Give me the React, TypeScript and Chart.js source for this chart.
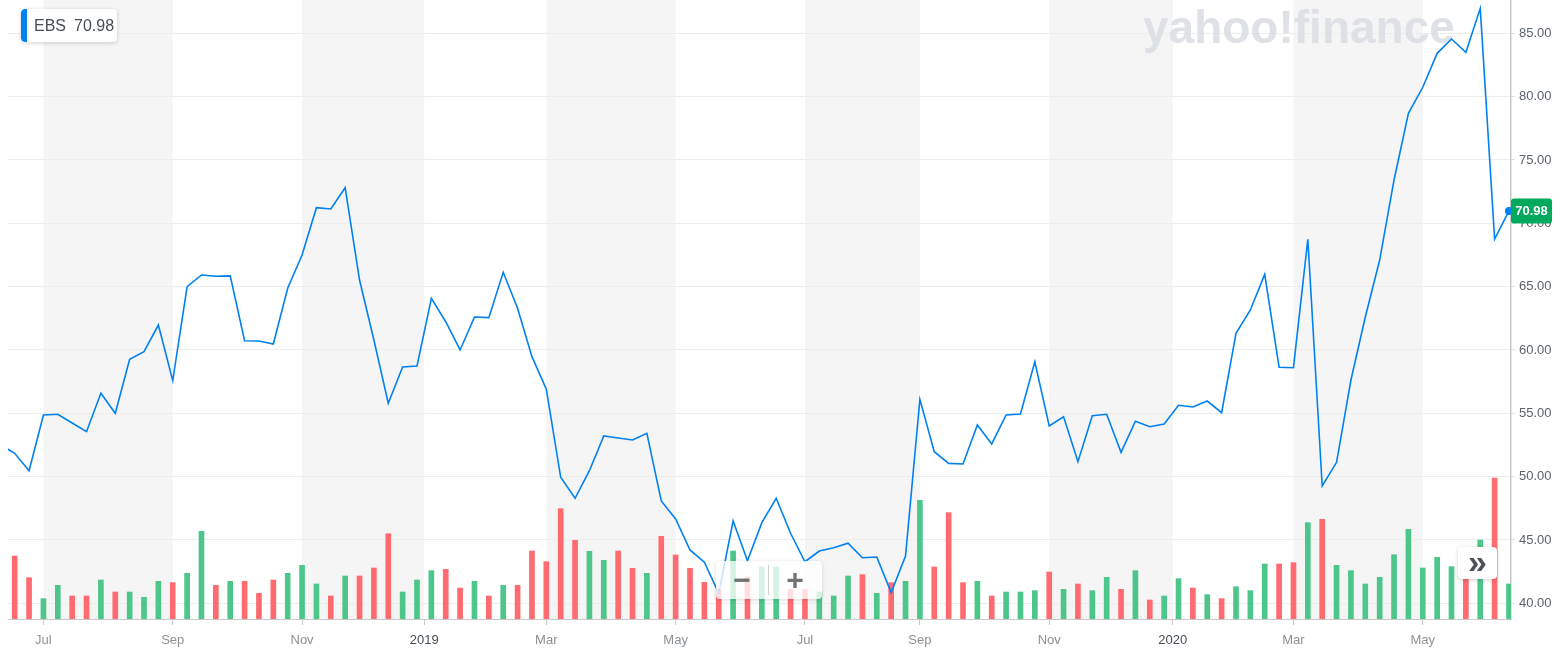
import React, { useEffect, useRef } from "react";
import { Chart, registerables } from "chart.js";

Chart.register(...registerables);

// Weekly closes (first value is the partly hidden week before the visible range)
const prices = [
  52.54,
  51.84, 50.47, 54.87, 54.92, 54.23, 53.55, 56.58, 55.0, 59.26, 59.87,
  61.97, 57.58, 65.0, 65.92, 65.82, 65.85, 60.73, 60.71, 60.47, 64.87,
  67.5, 71.23, 71.13, 72.81, 65.52, 60.79, 55.79, 58.66, 58.74, 64.08,
  62.23, 60.0, 62.6, 62.55, 66.13, 63.29, 59.47, 56.9, 49.95, 48.29,
  50.47, 53.21, 53.05, 52.89, 53.42, 48.08, 46.66, 44.21, 43.24, 40.79,
  46.5, 43.36, 46.37, 48.29, 45.53, 43.28, 44.13, 44.39, 44.74, 43.6,
  43.65, 40.84, 43.73, 56.1, 51.97, 51.05, 51.0, 54.08, 52.58, 54.87,
  54.95, 59.07, 54.0, 54.73, 51.18, 54.81, 54.92, 51.92, 54.37, 53.94,
  54.15, 55.63, 55.5, 55.97, 55.05, 61.32, 63.16, 65.97, 58.63, 58.6,
  68.74, 49.26, 51.13, 57.63, 62.6, 67.1, 73.42, 78.68, 80.74, 83.42,
  84.55, 83.5, 86.97, 68.76, 70.98,
];

// Weekly volume (millions of shares)
const volumes = [
  1.2,
  1.89, 1.24, 0.61, 1.01, 0.69, 0.69, 1.17, 0.81, 0.81, 0.65,
  1.13, 1.09, 1.37, 2.63, 1.01, 1.13, 1.13, 0.77, 1.17, 1.37,
  1.61, 1.05, 0.69, 1.29, 1.29, 1.53, 2.56, 0.81, 1.17, 1.45,
  1.49, 0.93, 1.13, 0.69, 1.01, 1.01, 2.04, 1.72, 3.31, 2.36,
  2.03, 1.76, 2.04, 1.52, 1.37, 2.48, 1.92, 1.52, 1.1, 0.89,
  2.04, 1.26, 1.56, 1.56, 0.89, 0.89, 0.81, 0.69, 1.29, 1.33,
  0.77, 1.09, 1.13, 3.56, 1.56, 3.19, 1.09, 1.13, 0.69, 0.81,
  0.81, 0.85, 1.41, 0.89, 1.05, 0.85, 1.25, 0.89, 1.45, 0.57,
  0.69, 1.21, 0.93, 0.73, 0.61, 0.97, 0.85, 1.65, 1.65, 1.69,
  2.89, 2.99, 1.61, 1.45, 1.05, 1.25, 1.93, 2.69, 1.53, 1.85,
  1.57, 1.65, 2.37, 4.23, 1.05,
];

const firstWeek = -1; // week index of the first value
const tickWeeks = [2, 11, 20, 28.5, 37, 46, 55, 63, 72, 80.6, 89, 98];
const tickLabels = ["Jul", "Sep", "Nov", "2019", "Mar", "May", "Jul", "Sep", "Nov", "2020", "Mar", "May"];
const priceTicks = [40, 45, 50, 55, 60, 65, 70, 75, 80, 85];
const symbol = "EBS";

const FONT = "'Liberation Sans', Arial, Helvetica, sans-serif";
const GREEN = "#4cc68a";
const RED = "#ff6b71";
const BLUE = "#0081f2";

export default function App() {
  const canvasRef = useRef<HTMLCanvasElement | null>(null);
  const last = prices[prices.length - 1];

  useEffect(() => {
    const canvas = canvasRef.current;
    if (!canvas) return;

    const priceData = prices.map((y, i) => ({ x: i + firstWeek, y }));
    const volData = volumes.map((y, i) => ({ x: i + firstWeek, y }));
    const volColors = prices.map((p, i) => (i > 0 && p >= prices[i - 1] ? GREEN : RED));
    const lastIdx = prices.length - 1;

    const bandsPlugin = {
      id: "bands",
      beforeDraw(chart: any) {
        const { ctx, chartArea } = chart;
        const xs = chart.scales.x;
        ctx.save();
        ctx.fillStyle = "#f5f5f5";
        for (let i = 0; i + 1 < tickWeeks.length; i += 2) {
          const a = Math.max(xs.getPixelForValue(tickWeeks[i]), chartArea.left);
          const b = Math.min(xs.getPixelForValue(tickWeeks[i + 1]), chartArea.right);
          ctx.fillRect(a, chartArea.top, b - a, chartArea.bottom - chartArea.top);
        }
        ctx.restore();
      },
    };

    const watermarkPlugin = {
      id: "watermark",
      beforeDatasetsDraw(chart: any) {
        const { ctx } = chart;
        ctx.save();
        ctx.fillStyle = "rgba(216,220,226,0.85)";
        ctx.font = `bold 46px ${FONT}`;
        ctx.textBaseline = "alphabetic";
        ctx.textAlign = "left";
        ctx.fillText("yahoo!finance", 1143, 43);
        ctx.restore();
      },
    };

    const lastLabelPlugin = {
      id: "lastLabel",
      afterDraw(chart: any) {
        const { ctx, chartArea } = chart;
        const y = chart.scales.y.getPixelForValue(last);
        const x = chartArea.right;
        const w = 41;
        const h = 25;
        ctx.save();
        ctx.fillStyle = "#00a95c";
        ctx.beginPath();
        (ctx as any).roundRect(x, y - h / 2, w, h, 3);
        ctx.fill();
        ctx.fillStyle = "#ffffff";
        ctx.font = `bold 13px ${FONT}`;
        ctx.textAlign = "center";
        ctx.textBaseline = "middle";
        ctx.fillText(last.toFixed(2), x + w / 2, y + 0.5);
        ctx.restore();
      },
    };

    const chart = new Chart(canvas, {
      data: {
        datasets: [
          {
            type: "line",
            data: priceData,
            xAxisID: "x",
            yAxisID: "y",
            borderColor: BLUE,
            borderWidth: 1.6,
            pointRadius: (c: any) => (c.dataIndex === lastIdx ? 4 : 0),
            pointBackgroundColor: BLUE,
            pointBorderWidth: 0,
            pointHoverRadius: 0,
            tension: 0,
            order: 0,
          } as any,
          {
            type: "bar",
            data: volData,
            xAxisID: "x",
            yAxisID: "yv",
            backgroundColor: volColors,
            barThickness: 5,
            order: 1,
          } as any,
        ],
      },
      options: {
        animation: false,
        responsive: false,
        devicePixelRatio: 1,
        layout: { autoPadding: false, padding: { left: 8, top: 0, right: 0, bottom: 0 } },
        plugins: { legend: { display: false }, tooltip: { enabled: false } },
        scales: {
          x: {
            type: "linear",
            offset: false,
            min: -0.466,
            max: 104.14,
            afterBuildTicks: (s: any) => {
              s.ticks = tickWeeks.map((v) => ({ value: v }));
            },
            afterFit: (s: any) => {
              s.height = 38;
              s.paddingLeft = 0;
              s.paddingRight = 0;
            },
            grid: {
              display: true,
              offset: false,
              drawOnChartArea: false,
              drawTicks: true,
              tickLength: 6,
              color: "#c9c9c9",
            },
            border: { display: true, color: "#c9c9c9", width: 1 },
            ticks: {
              autoSkip: false,
              maxRotation: 0,
              padding: 8,
              font: { family: FONT, size: 13 },
              color: (c: any) => (/^\d{4}$/.test(tickLabels[c.index] || "") ? "#464e56" : "#8c9196"),
              callback: (_v: any, i: number) => tickLabels[i],
            },
          },
          y: {
            type: "linear",
            position: "right",
            min: 38.761,
            max: 87.629,
            afterBuildTicks: (s: any) => {
              s.ticks = priceTicks.map((v) => ({ value: v }));
            },
            afterFit: (s: any) => {
              s.width = 57;
              s.paddingTop = 0;
              s.paddingBottom = 0;
            },
            grid: {
              color: "#ededed",
              drawTicks: true,
              tickLength: 4,
              tickColor: "#e0e0e0",
            },
            border: { display: true, color: "#c9c9c9", width: 1.5 },
            ticks: {
              padding: 4,
              font: { family: FONT, size: 13 },
              color: "#5b636a",
              callback: (v: any) => Number(v).toFixed(2),
            },
          },
          yv: {
            type: "linear",
            display: false,
            min: 0,
            max: 18.57,
          },
        },
      } as any,
      plugins: [bandsPlugin, watermarkPlugin, lastLabelPlugin],
    });

    return () => chart.destroy();
  }, []);

  return (
    <div
      style={{
        position: "fixed",
        left: 0,
        top: 0,
        width: 1568,
        height: 657,
        background: "#ffffff",
        fontFamily: FONT,
      }}
    >
      <canvas ref={canvasRef} width={1568} height={657} style={{ display: "block", width: 1568, height: 657 }} />

      {/* Symbol legend */}
      <div
        style={{
          position: "absolute",
          left: 21,
          top: 9,
          width: 96,
          height: 33,
          background: "#ffffff",
          borderRadius: 4,
          boxShadow: "0 1px 4px rgba(0,0,0,0.18)",
          display: "flex",
          alignItems: "center",
          overflow: "hidden",
        }}
      >
        <div style={{ width: 6, height: "100%", background: BLUE, borderRadius: "4px 0 0 4px" }} />
        <span style={{ marginLeft: 7, fontSize: 16, color: "#464e56" }}>{symbol}</span>
        <span style={{ marginLeft: 8, fontSize: 16, color: "#464e56" }}>{last.toFixed(2)}</span>
      </div>

      {/* Zoom control */}
      <div
        style={{
          position: "absolute",
          left: 716,
          top: 561,
          width: 106,
          height: 38,
          background: "rgba(255,255,255,0.78)",
          borderRadius: 4,
          boxShadow: "0 1px 4px rgba(0,0,0,0.15)",
          display: "flex",
          alignItems: "center",
        }}
      >
        <div style={{ width: 52, textAlign: "center", fontSize: 30, fontWeight: "bold", color: "rgba(90,90,90,0.85)", lineHeight: "38px" }}>
          −
        </div>
        <div style={{ width: 1, height: 30, background: "rgba(200,200,200,0.8)" }} />
        <div style={{ width: 52, textAlign: "center", fontSize: 30, fontWeight: "bold", color: "rgba(90,90,90,0.85)", lineHeight: "38px" }}>
          +
        </div>
      </div>

      {/* Scroll button */}
      <div
        style={{
          position: "absolute",
          left: 1458,
          top: 547,
          width: 39,
          height: 32,
          background: "#ffffff",
          borderRadius: 4,
          boxShadow: "0 1px 4px rgba(0,0,0,0.18)",
          display: "flex",
          alignItems: "center",
          justifyContent: "center",
          fontSize: 34,
          fontWeight: "bold",
          color: "#4a5158",
          lineHeight: "32px",
        }}
      >
        <span style={{ marginTop: -4 }}>»</span>
      </div>
    </div>
  );
}
